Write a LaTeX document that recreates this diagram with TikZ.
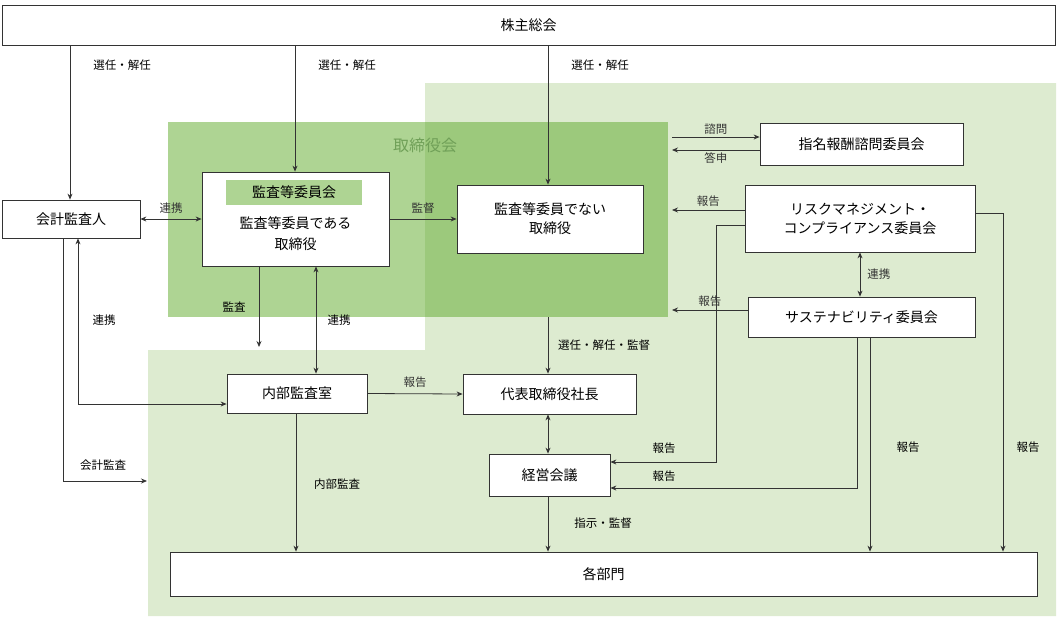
\documentclass[tikz,border=0pt]{standalone}
\usepackage{fontspec}
\setmainfont{Noto Sans CJK JP}
\usetikzlibrary{arrows.meta}
\definecolor{lg}{RGB}{221,235,208}
\definecolor{dg}{RGB}{174,212,147}
\definecolor{og}{RGB}{156,201,124}
\definecolor{tg}{RGB}{112,160,88}
\begin{document}
\begin{tikzpicture}[x=1pt,y=-1pt,
 box/.style={draw=black!80,line width=0.8pt,fill=white,inner sep=0,font=\fontsize{14}{19}\selectfont,align=center},
 lab/.style={font=\fontsize{11.5}{13}\selectfont,inner sep=1pt},
 ar/.style={-{Stealth[length=6pt,width=5pt]},line width=0.8pt,black!80},
 dar/.style={{Stealth[length=6pt,width=5pt]}-{Stealth[length=6pt,width=5pt]},line width=0.8pt,black!80},
 ln/.style={line width=0.8pt,black!80}]
\useasboundingbox (0,0) rectangle (1058,619);
\fill[lg] (425,83)--(1056,83)--(1056,616)--(148,616)--(148,350)--(425,350)--cycle;
\fill[dg] (168,122) rectangle (425,317);
\fill[og] (425,122) rectangle (668,317);
\node[font=\fontsize{16}{18}\selectfont,text=tg] (bt) at (425,145) {取締役会};
% boxes
\node[box,minimum width=1053,minimum height=40] (gm) at (528.5,25) {株主総会};
\node[box,minimum width=138,minimum height=38] (ka) at (71,219) {会計監査人};
\node[box,minimum width=187,minimum height=94] (ac) at (295.5,219) {};
\node[draw=none,fill=dg,minimum width=136,minimum height=25,font=\fontsize{14}{17}\selectfont] (acl) at (294,192.5) {監査等委員会};
\node[font=\fontsize{14}{21}\selectfont,align=center] (act) at (295.5,234) {監査等委員である\\取締役};
\node[box,minimum width=186,minimum height=68] (nd) at (550,219) {監査等委員でない\\取締役};
\node[box,minimum width=203,minimum height=42] (nc) at (861.5,144) {指名報酬諮問委員会};
\node[box,minimum width=230,minimum height=67] (rc) at (860,218.5) {リスクマネジメント・\\コンプライアンス委員会};
\node[box,minimum width=227,minimum height=40] (sc) at (861.5,317) {サステナビリティ委員会};
\node[box,minimum width=140,minimum height=39] (ia) at (297,393.5) {内部監査室};
\node[box,minimum width=173,minimum height=40] (ce) at (549.5,394) {代表取締役社長};
\node[box,minimum width=121,minimum height=42] (mm) at (549.5,475) {経営会議};
\node[box,minimum width=867,minimum height=44] (dp) at (603.5,574) {各部門};
% connectors
\draw[ar] (gm.south-|70,0) -- (ka.north-|70,0);
\node[lab] (l1) at (122,65) {選任・解任};
\draw[ar] (gm.south-|295,0) -- (ac.north-|295,0);
\node[lab] (l2) at (347,65) {選任・解任};
\draw[ar] (gm.south-|548,0) -- (nd.north-|548,0);
\node[lab] (l3) at (600,65) {選任・解任};
\draw[dar] (ka.east) -- (ac.west) node[lab,midway,above=4pt] {連携};
\draw[ar] (ac.east) -- (nd.west) node[lab,midway,above=4pt] {監督};
\coordinate (c1) at (672,137); \coordinate (c2) at (672,150);
\draw[ar] (c1) -- (nc.west|-c1) node[lab,midway,above=1pt] {諮問};
\draw[ar] (nc.west|-c2) -- (c2) node[lab,midway,below=1pt] {答申};
\coordinate (c3) at (672,210);
\draw[ar] (rc.west|-c3) -- (c3) node[lab,midway,above=2pt] {報告};
\draw[dar] (rc.south-|860,0) -- (sc.north-|860,0) node[lab,midway,right=6pt] {連携};
\coordinate (c4) at (672,310);
\draw[ar] (sc.west|-c4) -- (c4) node[lab,midway,above=2pt] {報告};
\draw[ar] (rc.west|-0,225) -| (716,462) -- (mm.east|-0,462);
\node[lab] (l4) at (664,448) {報告};
\draw[ar] (sc.south-|857,0) |- (mm.east|-0,488);
\node[lab] (l5) at (664,476) {報告};
\draw[ar] (sc.south-|870,0) -- (dp.north-|870,0);
\node[lab] (l6) at (908,447) {報告};
\draw[ar] (rc.east|-0,213) -| (dp.north-|1003,0);
\node[lab] (l7) at (1028,447) {報告};
\coordinate (c5) at (259,347);
\draw[ar] (ac.south-|c5) -- (c5);
\node[lab] (l8) at (234,307) {監査};
\draw[dar] (ac.south-|316,0) -- (ia.north-|316,0);
\node[lab] (l9) at (339,320) {連携};
\draw[dar] (ka.south-|78,0) |- (ia.west|-0,404);
\node[lab] (l10) at (104,320) {連携};
\coordinate (c6) at (147,481);
\draw[ar] (ka.south-|63,0) |- (c6);
\node[lab] (l11) at (103,465) {会計監査};
\draw[ar] (ia.east) -- (ce.west) node[lab,midway,above=5pt] {報告};
\draw[ar] (ia.south-|296,0) -- (dp.north-|296,0);
\node[lab] (l12) at (337,484) {内部監査};
\coordinate (c7) at (548,317);
\draw[ar] (c7) -- (ce.north-|c7);
\node[lab] (l13) at (604,345) {選任・解任・監督};
\draw[dar] (ce.south-|548,0) -- (mm.north-|548,0);
\draw[ar] (mm.south-|548,0) -- (dp.north-|548,0);
\node[lab] (l14) at (603,523) {指示・監督};
\end{tikzpicture}
\end{document}
